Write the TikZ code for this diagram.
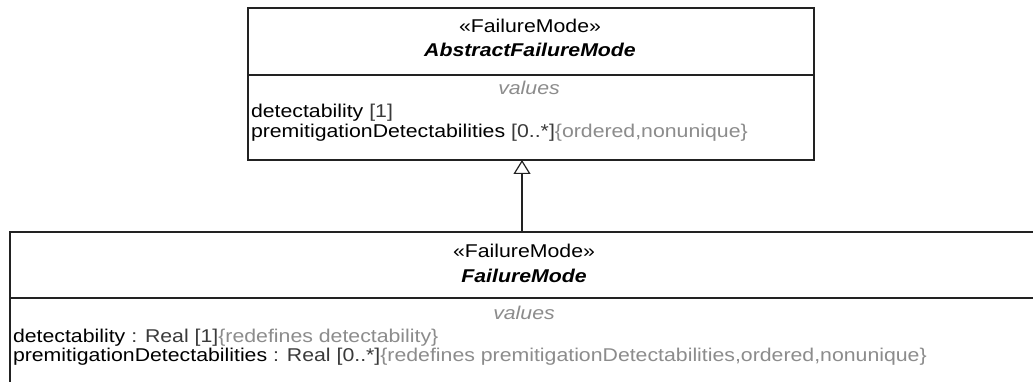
\documentclass[tikz,border=0pt]{standalone}
\usepackage{fontspec}
\setmainfont{Liberation Sans}[FakeStretch=1.15]
\usetikzlibrary{arrows.meta}
\definecolor{umlline}{HTML}{222222}
\definecolor{umltext}{HTML}{3A3A3A}
\definecolor{umlgray}{HTML}{8C8C8C}
\begin{document}
\begin{tikzpicture}[x=1pt,y=-1pt,
  every node/.style={inner sep=0pt,outer sep=0pt,font=\fontsize{18.5}{22}\selectfont},
  classbox/.style={draw=umlline,line width=1.5pt,fill=white},
  divider/.style={draw=umlline,line width=1.5pt},
  gen/.style={draw=umlline,line width=1.2pt,-{Triangle[open,length=14pt,width=17pt,line width=1.2pt]}}]
\clip (0,0) rectangle (1033,382);
\node[classbox,minimum width=566pt,minimum height=152pt,anchor=north west] (abstract) at (248,8) {};
\draw[divider] (abstract.west |- 0,75) -- (abstract.east |- 0,75);
\node[anchor=base] (absstereo) at (530,33) {«FailureMode»};
\node[anchor=base] (absname) at (530,57) {\textbf{\textit{AbstractFailureMode}}};
\node[anchor=base,text=umlgray] (absvalues) at (529,95) {\textit{values}};
\node[anchor=base west] (absdet) at (251,118) {detectability \textcolor{umltext}{[1]}};
\node[anchor=base west] (absprem) at (251,138) {premitigationDetectabilities \textcolor{umltext}{[0..*]}\textcolor{umlgray}{\{ordered,nonunique\}}};
\node[classbox,minimum width=1028pt,minimum height=200pt,anchor=north west] (failure) at (10,232) {};
\draw[divider] (failure.west |- 0,298) -- (failure.east |- 0,298);
\node[anchor=base] (fmstereo) at (524,257) {«FailureMode»};
\node[anchor=base] (fmname) at (524,282) {\textbf{\textit{FailureMode}}};
\node[anchor=base,text=umlgray] (fmvalues) at (524,319) {\textit{values}};
\node[anchor=base west] (fmdet) at (13,342) {detectability \textcolor{umltext}{: Real [1]}\textcolor{umlgray}{\{redefines detectability\}}};
\node[anchor=base west] (fmprem) at (13,361) {premitigationDetectabilities \textcolor{umltext}{: Real [0..*]}\textcolor{umlgray}{\{redefines premitigationDetectabilities,ordered,nonunique\}}};
\coordinate (genx) at (522,0);
\draw[gen] (genx |- failure.north) -- (genx |- abstract.south);
\end{tikzpicture}
\end{document}
